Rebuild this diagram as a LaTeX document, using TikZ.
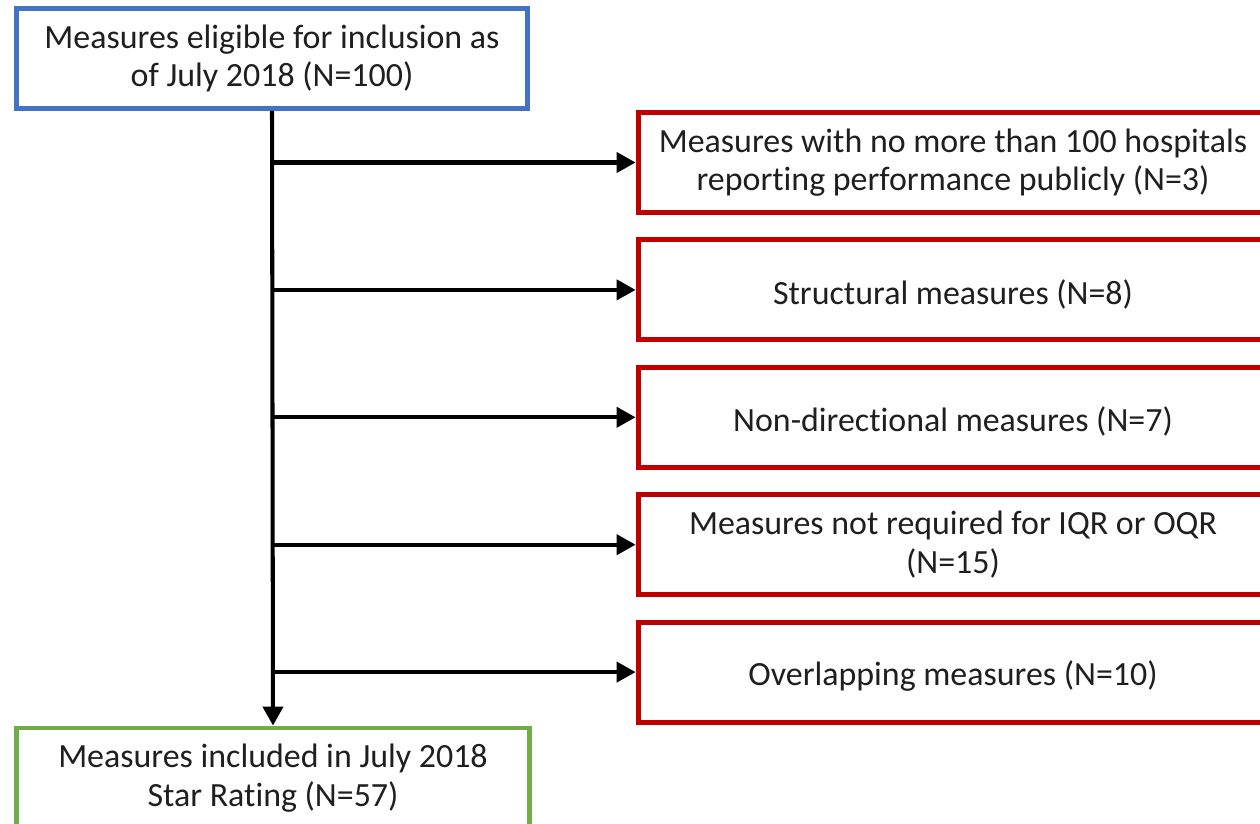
\documentclass[tikz,border=0pt]{standalone}
\usepackage{fontspec}
\setmainfont{Carlito}[Ligatures=NoCommon]
\usetikzlibrary{positioning,arrows.meta}
\definecolor{boxblue}{HTML}{4472C4}
\definecolor{boxred}{HTML}{C00000}
\definecolor{boxgreen}{HTML}{70AD47}
\tikzset{
	flow chart/.style={
		x=0.02cm, y=-0.02cm,
		node distance=0.45cm,
		font=\fontsize{19.3}{22}\selectfont,
		text=black!88
	},
	measure box/.style={
		rectangle,
		draw,
		line width=2.8pt,
		fill=white,
		align=center,
		inner sep=0pt,
		minimum height=2cm,
		execute at begin node={\rule{0pt}{19pt}}% text sits a little low, as in the source
	},
	start box/.style={
		measure box,
		draw=boxblue,
		minimum width=10.22cm
	},
	exclusion box/.style={
		measure box,
		draw=boxred,
		minimum width=12.6cm
	},
	result box/.style={
		measure box,
		draw=boxgreen,
		minimum width=10.26cm
	},
	flow line/.style={
		line width=2.3pt,
		-{Triangle[length=0.38cm,width=0.4cm]}
	}
}

\begin{document}
\begin{tikzpicture}[flow chart]
	\useasboundingbox (0,0) rectangle (1260,824);
	% inclusion flow
	\node[start box] (eligible) at (272,58.5) {Measures eligible for inclusion as\\of July 2018 (N=100)};
	\node[result box] (included) at (273,778) {Measures included in July 2018\\Star Rating (N=57)};
	% exclusions
	\node[exclusion box] (hospitals) at (953,162.5) {Measures with no more than 100 hospitals\\reporting performance publicly (N=3)};
	\node[exclusion box,below=of hospitals] (structural) {Structural measures (N=8)};
	\node[exclusion box,below=of structural] (nondirectional) {Non-directional measures (N=7)};
	\node[exclusion box,below=of nondirectional] (notrequired) {Measures not required for IQR or OQR\\(N=15)};
	\node[exclusion box,below=of notrequired] (overlapping) {Overlapping measures (N=10)};
	% connectors
	\draw[flow line] (eligible.south) -- (included.north);
	\foreach \excl in {hospitals,structural,nondirectional,notrequired,overlapping}
		\draw[flow line] (eligible.south |- \excl.west) -- (\excl.west);
\end{tikzpicture}
\end{document}
